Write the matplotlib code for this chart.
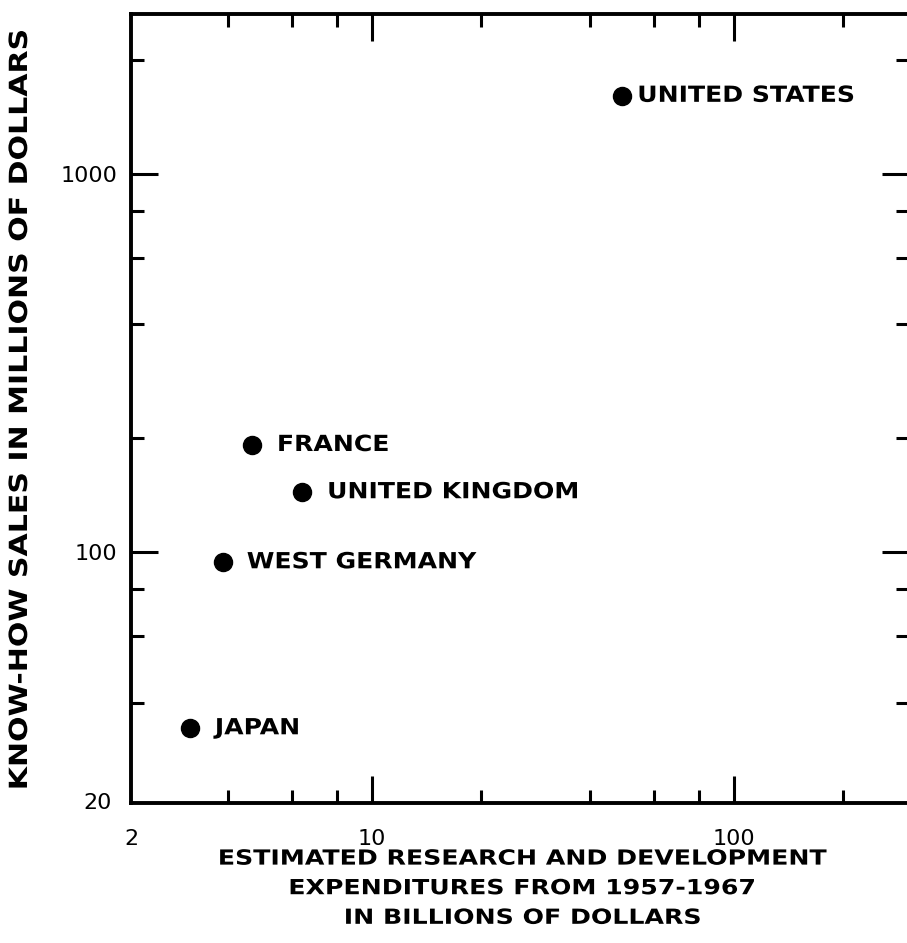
import numpy as np
import matplotlib
matplotlib.use("Agg")
import matplotlib.pyplot as plt
from matplotlib.ticker import FixedLocator, NullFormatter
from matplotlib.patheffects import AbstractPathEffect
from matplotlib.transforms import Affine2D

# values
countries = ["UNITED STATES", "FRANCE", "UNITED KINGDOM", "WEST GERMANY", "JAPAN"]
rd_spend = [49.0, 4.66, 6.41, 3.88, 3.14]        # billions of dollars, 1957-1967
knowhow_sales = [1610, 192, 144, 94, 34.2]       # millions of dollars

x_major = [10, 100]
x_minor = [4, 6, 8, 20, 40, 60, 80, 200]
y_major = [100, 1000]
y_minor = [40, 60, 80, 200, 400, 600, 800, 2000]

# label offsets from the dot, in points
label_dx = [11, 18, 18, 17, 18]


class Stretch(AbstractPathEffect):
    # widen lettering sideways, like the spaced stencil text of the original
    def __init__(self, sx, center=False):
        super().__init__()
        self.sx = sx
        self.center = center

    def draw_path(self, renderer, gc, tpath, affine, rgbFace=None):
        cx = 0
        if self.center and len(tpath.vertices):
            v = tpath.vertices
            cx = (v[:, 0].min() + v[:, 0].max()) / 2
        t = Affine2D().translate(-cx, 0).scale(self.sx, 1).translate(cx, 0) + affine
        renderer.draw_path(gc, tpath, t, rgbFace)


plt.rcParams['font.family'] = ['DejaVu Sans']
fig = plt.figure(figsize=(9.07, 9.43), dpi=100)
ax = fig.add_axes([131/907, 1 - 803/943, 778/907, 789/943])

ax.set_xscale("log")
ax.set_yscale("log")
ax.set_xlim(2.16, 304)
ax.set_ylim(21.7, 2650)

ax.plot(rd_spend, knowhow_sales, 'o', color='black', markersize=13, clip_on=False)
for name, x, y, dx in zip(countries, rd_spend, knowhow_sales, label_dx):
    ax.annotate(name, (x, y), xytext=(dx, 0), textcoords='offset points',
                va='center', ha='left', fontsize=16, fontweight='bold',
                path_effects=[Stretch(1.13)])

ax.xaxis.set_major_locator(FixedLocator(x_major))
ax.xaxis.set_minor_locator(FixedLocator(x_minor))
ax.yaxis.set_major_locator(FixedLocator(y_major))
ax.yaxis.set_minor_locator(FixedLocator(y_minor))
ax.set_xticklabels([str(v) for v in x_major])
ax.set_yticklabels([str(v) for v in y_major])
ax.xaxis.set_minor_formatter(NullFormatter())
ax.yaxis.set_minor_formatter(NullFormatter())

ax.tick_params(which='both', direction='in', top=True, right=True, width=2.2,
               labelsize=16, colors='black')
ax.tick_params(which='major', length=19.5)
ax.tick_params(which='minor', length=9.5)
ax.tick_params(axis='x', which='major', pad=18.5)
ax.tick_params(axis='y', which='major', pad=10)

for s in ax.spines.values():
    s.set_linewidth(2.8)

# corner labels
ax.text(0, -0.033, "2", transform=ax.transAxes, ha='center', va='top', fontsize=16)
ax.text(-0.025, 0, "20", transform=ax.transAxes, ha='right', va='center', fontsize=16)

ax.set_xlabel("ESTIMATED RESEARCH AND DEVELOPMENT\nEXPENDITURES FROM 1957-1967\nIN BILLIONS OF DOLLARS",
              fontsize=15, fontweight='bold', linespacing=1.6)
ax.xaxis.set_label_coords(0.5026, -0.108)
ax.xaxis.label.set_va('center')
ax.xaxis.label.set_path_effects([Stretch(1.21, center=True)])
ax.set_ylabel("KNOW-HOW SALES IN MILLIONS OF DOLLARS", fontsize=18, fontweight='bold')
ax.yaxis.set_label_coords(-0.1427, 0.498)
ax.yaxis.label.set_va('center')
ax.yaxis.label.set_path_effects([Stretch(1.2, center=True)])

fig.savefig("out.png", dpi=100)
